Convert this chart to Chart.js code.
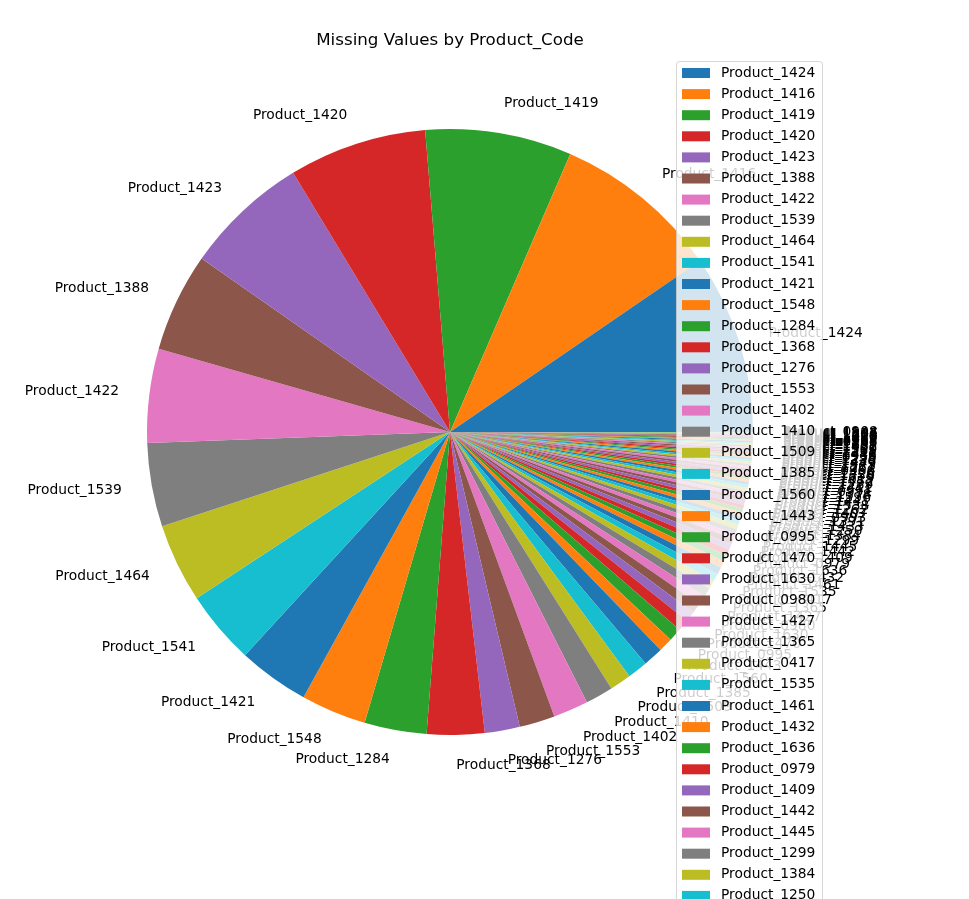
<!DOCTYPE html>
<html><head><meta charset="utf-8">
<script src="https://cdn.jsdelivr.net/npm/chart.js@4.4.0/dist/chart.umd.min.js"></script>
<style>html,body{margin:0;padding:0;background:#fff}</style>
</head><body>
<canvas id="c" width="969" height="899"></canvas>
<script>
const categories = ["Product_1424","Product_1416","Product_1419","Product_1420","Product_1423","Product_1388","Product_1422","Product_1539","Product_1464","Product_1541","Product_1421","Product_1548","Product_1284","Product_1368","Product_1276","Product_1553","Product_1402","Product_1410","Product_1509","Product_1385","Product_1560","Product_1443","Product_0995","Product_1470","Product_1630","Product_0980","Product_1427","Product_1365","Product_0417","Product_1535","Product_1461","Product_1432","Product_1636","Product_0979","Product_1409","Product_1442","Product_1445","Product_1299","Product_1384","Product_1250",
"Product_1433","Product_1391","Product_0993","Product_1407","Product_1262","Product_1538","Product_1441","Product_1596","Product_1378","Product_0991","Product_1411","Product_1289","Product_1452","Product_1619","Product_1358","Product_1426","Product_0966","Product_1261","Product_1573","Product_1449","Product_1336","Product_1295","Product_0938","Product_1446","Product_1311","Product_1565","Product_1500","Product_1401","Product_1632","Product_1395","Product_0968","Product_1288","Product_1459","Product_1580","Product_1322","Product_1413","Product_1604","Product_1237","Product_1544","Product_0908"];
const missingValues = [34.3,32.1,28.0,26.4,23.8,18.9,18.0,16.0,15.1,14.1,13.6,12.5,11.9,11.0,6.7,6.8,6.7,5.3,4.1,3.9,3.8,2.7,2.5,2.2,2.0,1.9,1.8,1.7,1.6,1.5,1.4,1.3,1.25,1.2,1.1,1.05,1.0,0.95,0.9,0.85,
0.8,0.78,0.75,0.72,0.7,0.68,0.65,0.62,0.6,0.58,0.56,0.54,0.52,0.5,0.48,0.46,0.45,0.44,0.42,0.4,0.4,0.38,0.36,0.35,0.34,0.32,0.3,0.3,0.28,0.27,0.26,0.25,0.24,0.22,0.2,0.2,0.18,0.16,0.15,0.12];
const chartTitle = "Missing Values by Product_Code";
const tab10 = ["#1f77b4","#ff7f0e","#2ca02c","#d62728","#9467bd","#8c564b","#e377c2","#7f7f7f","#bcbd22","#17becf"];
const colors = categories.map((_, i) => tab10[i % 10]);
const revLabels = categories.slice().reverse();
const revData = missingValues.slice().reverse();
const revColors = colors.slice().reverse();
const FONT = "'DejaVu Sans', sans-serif";

const overlay = {
  id: 'overlay',
  afterDatasetsDraw(chart) {
    const ctx = chart.ctx;
    const meta = chart.getDatasetMeta(0);
    ctx.save();
    ctx.font = "13.8px " + FONT;
    ctx.fillStyle = "#000";
    ctx.textBaseline = "middle";
    meta.data.forEach((arc, i) => {
      const mid = (arc.startAngle + arc.endAngle) / 2;
      const r = arc.outerRadius * 1.1;
      const x = arc.x + r * Math.cos(mid), y = arc.y + r * Math.sin(mid);
      ctx.textAlign = Math.cos(mid) >= 0 ? "left" : "right";
      ctx.fillText(revLabels[i], x, y);
    });
    ctx.font = "16.7px " + FONT;
    ctx.textAlign = "center";
    ctx.fillText(chartTitle, 450, 41);
    const lx = 676, ly = 61, lw = 146, step = 21.1;
    ctx.fillStyle = "rgba(255,255,255,0.8)";
    ctx.strokeStyle = "rgba(204,204,204,0.8)";
    ctx.lineWidth = 1;
    ctx.beginPath();
    ctx.roundRect(lx + 0.5, ly + 0.5, lw, 900, 3);
    ctx.fill(); ctx.stroke();
    ctx.font = "13.8px " + FONT;
    ctx.textAlign = "left";
    categories.forEach((name, i) => {
      const cy = 73 + i * step;
      if (cy > 920) return;
      ctx.fillStyle = colors[i];
      ctx.fillRect(682, cy - 5, 28, 10);
      ctx.fillStyle = "#000";
      ctx.fillText(name, 721, cy);
    });
    ctx.restore();
  }
};

new Chart(document.getElementById('c'), {
  type: 'pie',
  data: { labels: revLabels, datasets: [{ data: revData, backgroundColor: revColors, borderWidth: 0 }] },
  options: {
    responsive: false, animation: false, rotation: 90,
    layout: { padding: { left: 147, right: 216, top: 129, bottom: 164 } },
    plugins: { legend: { display: false }, title: { display: false }, tooltip: { enabled: false } }
  },
  plugins: [overlay]
});
</script>
</body></html>
